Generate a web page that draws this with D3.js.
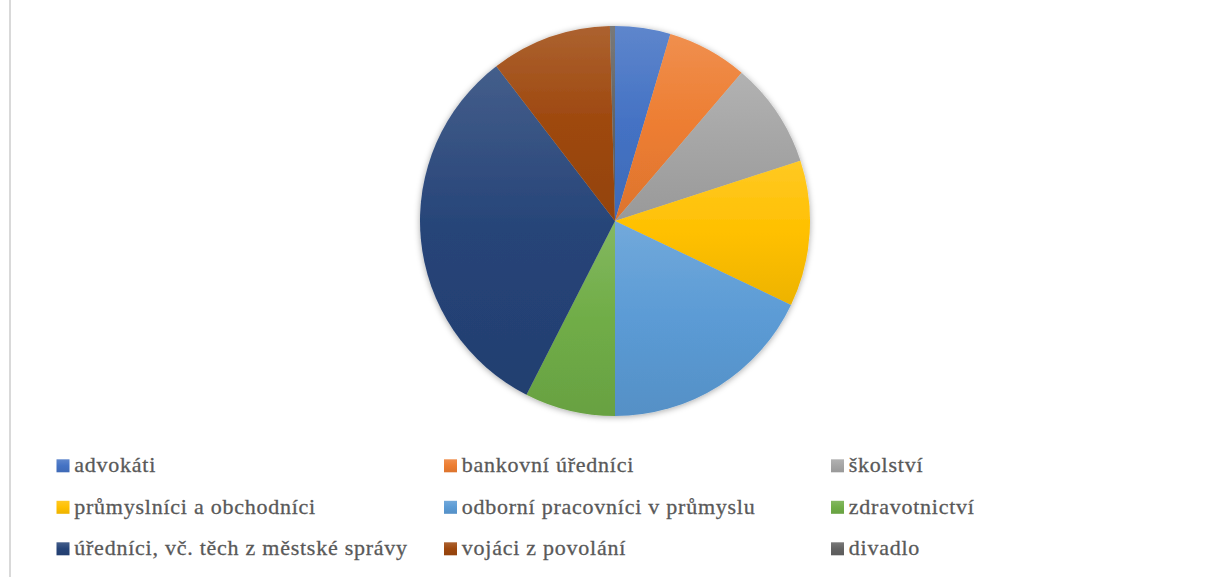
<!DOCTYPE html>
<html>
<head>
<meta charset="utf-8">
<script src="https://cdn.jsdelivr.net/npm/d3@7"></script>
<style>
  body { margin: 0; background: #fff; }
  svg { display: block; }
</style>
</head>
<body>
<svg id="chart"></svg>
<script>
// data (clockwise from 12 o'clock)
var categories = ["advokáti", "bankovní úředníci", "školství", "průmyslníci a obchodníci",
  "odborní pracovníci v průmyslu", "zdravotnictví", "úředníci, vč. těch z městské správy",
  "vojáci z povolání", "divadlo"];
var values = [11, 16, 21, 29, 43, 18, 77, 24, 1];
var colors = ["#4472C4", "#ED7D31", "#A5A5A5", "#FFC000", "#5B9BD5", "#70AD47", "#264478", "#9E480E", "#636363"];

var width = 1209,
    height = 577;

var svg = d3.select("#chart")
  .attr("width", width)
  .attr("height", height);

// left frame line of the chart area
svg.append("rect")
  .attr("x", 9).attr("y", 0)
  .attr("width", 2).attr("height", height)
  .attr("fill", "#d9d9d9");

var defs = svg.append("defs");

// soft shadow round the pie
var shadow = defs.append("filter")
  .attr("id", "shadow")
  .attr("x", "-10%").attr("y", "-10%")
  .attr("width", "120%").attr("height", "120%");
shadow.append("feDropShadow")
  .attr("dx", 0).attr("dy", 1)
  .attr("stdDeviation", 3)
  .attr("flood-color", "#000")
  .attr("flood-opacity", 0.35);

// one vertical gradient per colour, lighter on top
colors.forEach(function(c, i) {
  var g = defs.append("linearGradient")
    .attr("id", "grad" + i)
    .attr("x1", 0).attr("y1", 0).attr("x2", 0).attr("y2", 1);
  g.append("stop").attr("offset", "0%").attr("stop-color", d3.interpolateRgb(c, "#fff")(0.14));
  g.append("stop").attr("offset", "50%").attr("stop-color", c);
  g.append("stop").attr("offset", "100%").attr("stop-color", d3.interpolateRgb(c, "#000")(0.07));
});

var cx = 615, cy = 221, radius = 195;

var pie = d3.pie().sort(null).value(function(d) { return d; });
var arc = d3.arc().innerRadius(0).outerRadius(radius);

var pieG = svg.append("g")
  .attr("transform", "translate(" + cx + "," + cy + ")")
  .attr("filter", "url(#shadow)");

pieG.selectAll("path")
  .data(pie(values))
.enter().append("path")
  .attr("d", arc)
  .attr("fill", function(d, i) { return "url(#grad" + i + ")"; });

// legend: 3 columns x 3 rows
var colX = [56.5, 444, 831],
    rowY = [459.3, 500.8, 542.3];

var legend = svg.append("g")
  .selectAll("g")
  .data(categories)
.enter().append("g")
  .attr("transform", function(d, i) { return "translate(" + colX[i % 3] + "," + rowY[Math.floor(i / 3)] + ")"; });

legend.append("rect")
  .attr("width", 13).attr("height", 13)
  .attr("fill", function(d, i) { return "url(#grad" + i + ")"; });

legend.append("text")
  .attr("x", 17.8)
  .attr("y", 13)
  .attr("font-family", "'Liberation Serif', 'Times New Roman', serif")
  .attr("font-size", 22)
  .attr("letter-spacing", 0.75)
  .attr("fill", "#595959")
  .attr("stroke", "#595959")
  .attr("stroke-width", 0.3)
  .text(function(d) { return d; });
</script>
</body>
</html>
